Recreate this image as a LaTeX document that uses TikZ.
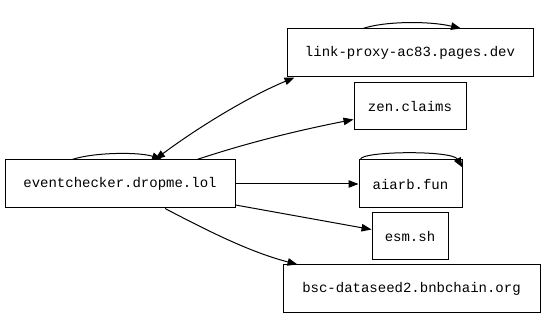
\documentclass[tikz,border=0pt]{standalone}
\usepackage{fontspec}
\setmonofont{Liberation Mono}
\usetikzlibrary{arrows.meta}
\begin{document}
\begin{tikzpicture}[x=1pt,y=-1pt,
  box/.style={draw,line width=1pt,inner sep=0pt,font=\ttfamily\fontsize{14}{16}\selectfont},
  edge/.style={line width=1pt,-{Triangle[length=10pt,width=7.5pt]}},
  bidir/.style={line width=1pt,{Triangle[length=10pt,width=7.5pt]}-{Triangle[length=10pt,width=7.5pt]}}]
\useasboundingbox (0,0) rectangle (544,320);
\fill[white] (0,0) rectangle (544,320);
\node[box,minimum width=230pt,minimum height=48pt] (ec) at (120,184) {eventchecker.dropme.lol};
\node[box,minimum width=246pt,minimum height=48pt] (lp) at (410,53) {link-proxy-ac83.pages.dev};
\node[box,minimum width=112pt,minimum height=47pt] (zen) at (410,106.5) {zen.claims};
\node[box,minimum width=103pt,minimum height=48pt] (ai) at (410.5,184) {aiarb.fun};
\node[box,minimum width=76pt,minimum height=47pt] (esm) at (410,236.5) {esm.sh};
\node[box,minimum width=257pt,minimum height=48pt] (bsc) at (411.5,289) {bsc-dataseed2.bnbchain.org};
% self loops
\draw[edge] ([xshift=-48pt]ec.north) .. controls (95,152) and (140,152) .. ([xshift=42pt]ec.north);
\draw[edge] ([xshift=-47pt]lp.north) .. controls (385,21) and (430,21) .. ([xshift=51pt]lp.north);
\draw[edge] ([xshift=2pt]ai.north west) .. controls (360,151) and (452,150) .. ([yshift=-8pt]ai.north east);
% edges
\draw[bidir] ([xshift=35pt]ec.north) .. controls (200,126) and (250,96) .. ([xshift=8pt]lp.south west);
\draw[edge] ([xshift=77pt]ec.north) .. controls (250,142) and (300,130) .. ([yshift=-13pt]zen.west);
\draw[edge] (ec.east) -- (ai.west);
\draw[edge] ([yshift=-21pt]ec.east) -- ([yshift=7pt]esm.west);
\draw[edge] ([xshift=45pt]ec.south) .. controls (210,232) and (250,252) .. ([xshift=15pt]bsc.north west);
\end{tikzpicture}
\end{document}
